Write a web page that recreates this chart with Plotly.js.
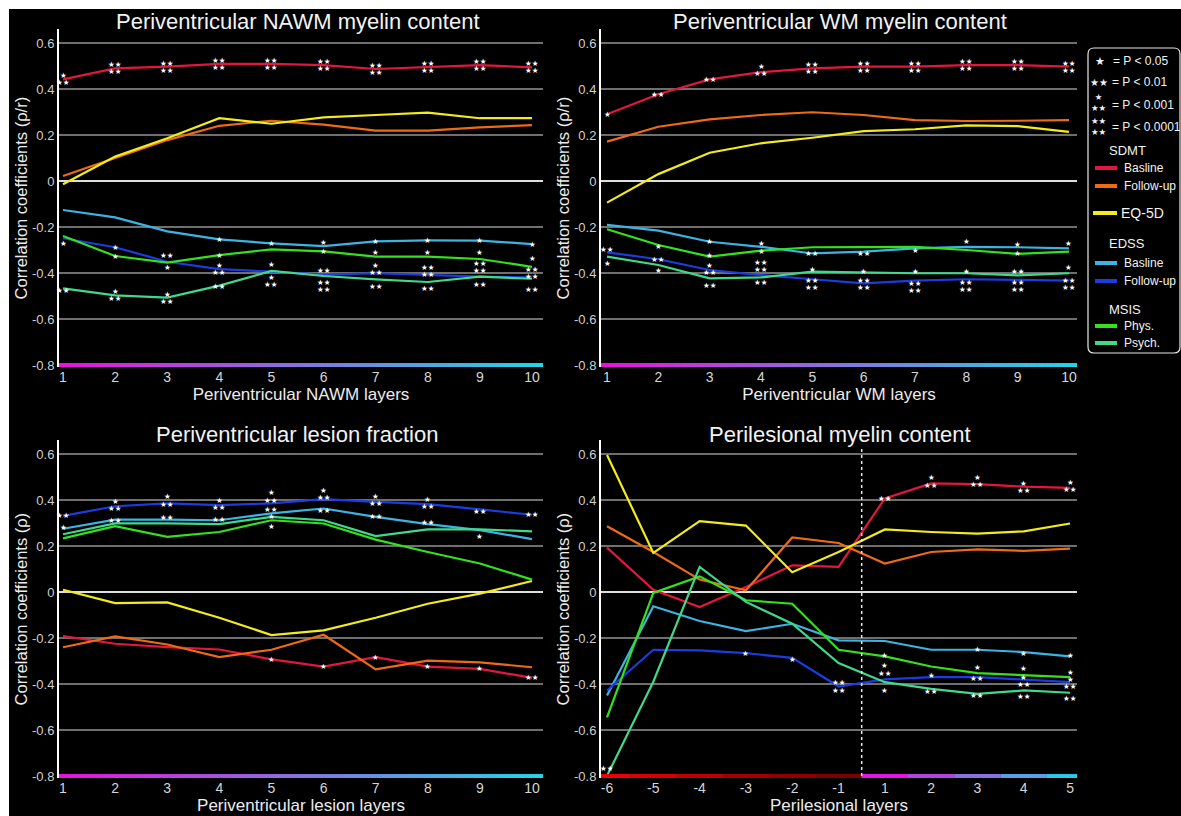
<!DOCTYPE html>
<html><head><meta charset="utf-8">
<script src="https://cdn.plot.ly/plotly-3.0.1.min.js"></script>
<style>
html,body{margin:0;padding:0;background:#ffffff;width:1181px;height:816px;overflow:hidden}
#plot{position:absolute;left:9px;top:9px;width:1172px;height:807px}
</style>
</head><body><div id="plot"></div>
<script>
// ================= DATA =================
const layers10 = [1,2,3,4,5,6,7,8,9,10];
const layerLabels10 = ['1','2','3','4','5','6','7','8','9','10'];
const perilesionalLayers = ['-6','-5','-4','-3','-2','-1','1','2','3','4','5'];
const yTickVals = [-0.8,-0.6,-0.4,-0.2,0,0.2,0.4,0.6];
const yTickText = ['-0.8','-0.6','-0.4','-0.2','0','0.2','0.4','0.6'];

// Panel 1: Periventricular NAWM myelin content
const nawmSdmtBase   = [0.442,0.490,0.497,0.509,0.509,0.504,0.487,0.494,0.504,0.494];
const nawmSdmtFollow = [0.022,0.099,0.178,0.240,0.262,0.245,0.219,0.219,0.233,0.243];
const nawmEq5d       = [-0.014,0.106,0.186,0.273,0.249,0.277,0.287,0.297,0.273,0.273];
const nawmEdssBase   = [-0.126,-0.158,-0.219,-0.254,-0.271,-0.283,-0.262,-0.258,-0.259,-0.274];
const nawmEdssFollow = [-0.249,-0.288,-0.351,-0.383,-0.394,-0.407,-0.401,-0.410,-0.416,-0.419];
const nawmMsisPhys   = [-0.239,-0.326,-0.355,-0.322,-0.297,-0.306,-0.329,-0.329,-0.339,-0.373];
const nawmMsisPsych  = [-0.467,-0.497,-0.507,-0.455,-0.391,-0.413,-0.428,-0.439,-0.416,-0.425];

// Panel 2: Periventricular WM myelin content
const wmSdmtBase   = [0.290,0.377,0.442,0.473,0.490,0.497,0.497,0.504,0.504,0.497];
const wmSdmtFollow = [0.171,0.236,0.268,0.287,0.299,0.287,0.265,0.261,0.262,0.265];
const wmEq5d       = [-0.094,0.030,0.123,0.164,0.188,0.217,0.225,0.242,0.239,0.214];
const wmEdssBase   = [-0.191,-0.216,-0.264,-0.286,-0.315,-0.307,-0.293,-0.286,-0.288,-0.293];
const wmEdssFollow = [-0.310,-0.340,-0.387,-0.409,-0.427,-0.445,-0.433,-0.427,-0.430,-0.433];
const wmMsisPhys   = [-0.210,-0.278,-0.329,-0.303,-0.288,-0.288,-0.286,-0.300,-0.317,-0.307];
const wmMsisPsych  = [-0.329,-0.365,-0.423,-0.419,-0.394,-0.399,-0.401,-0.401,-0.410,-0.401];

// Panel 3: Periventricular lesion fraction
const lesSdmtBase   = [-0.192,-0.225,-0.240,-0.250,-0.293,-0.324,-0.283,-0.324,-0.334,-0.373];
const lesSdmtFollow = [-0.240,-0.193,-0.228,-0.283,-0.251,-0.186,-0.336,-0.298,-0.306,-0.327];
const lesEq5d       = [0.010,-0.048,-0.045,-0.112,-0.187,-0.167,-0.112,-0.051,-0.007,0.048];
const lesEdssBase   = [0.275,0.315,0.315,0.312,0.342,0.363,0.327,0.295,0.269,0.230];
const lesEdssFollow = [0.331,0.373,0.385,0.378,0.385,0.404,0.392,0.382,0.359,0.336];
const lesMsisPhys   = [0.233,0.286,0.240,0.261,0.312,0.298,0.228,0.174,0.124,0.054];
const lesMsisPsych  = [0.251,0.298,0.298,0.295,0.327,0.312,0.243,0.272,0.272,0.264];

// Panel 4: Perilesional myelin content
const periSdmtBase   = [0.193,0.010,-0.065,0.022,0.116,0.109,0.407,0.472,0.469,0.458,0.453];
const periSdmtFollow = [0.286,0.174,0.054,0.007,0.237,0.213,0.124,0.174,0.185,0.179,0.189];
const periEq5d       = [0.596,0.170,0.308,0.289,0.086,0.174,0.272,0.261,0.254,0.264,0.298];
const periEdssBase   = [-0.450,-0.062,-0.126,-0.170,-0.138,-0.210,-0.213,-0.251,-0.251,-0.261,-0.280];
const periEdssFollow = [-0.428,-0.251,-0.254,-0.266,-0.286,-0.411,-0.380,-0.370,-0.370,-0.382,-0.392];
const periMsisPhys   = [-0.545,-0.004,0.068,-0.036,-0.051,-0.251,-0.280,-0.324,-0.353,-0.360,-0.370];
const periMsisPsych  = [-0.799,-0.390,0.109,-0.043,-0.138,-0.309,-0.392,-0.421,-0.443,-0.428,-0.438];

// Significance codes: 0 none, 1 P<0.05, 2 P<0.01, 3 P<0.001, 4 P<0.0001
const nawmSigSdmtBase   = [3,4,4,4,4,4,4,4,4,4];
const nawmSigEdssBase   = [0,0,0,1,1,1,1,1,1,1];
const nawmSigEdssFollow = [1,1,1,3,1,2,3,4,4,4];
const nawmSigMsisPhys   = [0,1,2,1,0,1,1,1,1,1];
const nawmSigMsisPsych  = [2,3,3,2,3,4,2,2,2,2];

const wmSigSdmtBase   = [1,2,2,3,4,4,4,4,4,4];
const wmSigEdssBase   = [0,0,1,1,2,2,1,1,1,1];
const wmSigEdssFollow = [2,2,3,4,4,4,4,4,4,4];
const wmSigMsisPhys   = [0,1,1,1,0,0,0,0,1,0];
const wmSigMsisPsych  = [1,1,2,2,1,1,1,1,2,1];

const lesSigSdmtBase   = [0,0,0,0,1,1,1,1,1,2];
const lesSigEdssBase   = [1,2,2,2,2,2,2,2,0,0];
const lesSigEdssFollow = [2,3,3,3,3,3,3,3,2,2];
const lesSigMsisPhys   = [0,0,0,0,1,0,0,0,0,0];
const lesSigMsisPsych  = [0,0,0,0,1,0,0,0,1,0];

const periSigSdmtBase   = [0,0,0,0,0,0,2,3,3,3,3];
const periSigEdssBase   = [0,0,0,0,0,0,0,0,1,1,1];
const periSigEdssFollow = [0,0,0,1,1,4,3,1,2,3,3];
const periSigMsisPhys   = [0,0,0,0,0,0,1,0,1,1,1];
const periSigMsisPsych  = [2,0,0,0,0,0,1,2,2,2,2];

// ================= STYLE =================
const COLORS = {
  sdmtBase:'#e3173e', sdmtFollow:'#ef6a14', eq5d:'#f2ec1c',
  edssBase:'#3bb4e4', edssFollow:'#1c3ce2', msisPhys:'#33e21c', msisPsych:'#40d98c'
};
const STAR_ROWS = [[], ['★'], ['★★'], ['★','★★'], ['★★','★★']];
// vertical pixel offset of each star label from its point (positive = up)
const starShift = {
  nawm: {edssBase:[0,0,0,0,0,4,0,0,0,0], edssFollow:[-5,0,-6,0,7,4,4,4,10,4],
         msisPhys:[0,0,7,0,0,0,4,4,6,8], msisPsych:[-2,0,0,-1,-10,-10,-7,-7,-8,-11]},
  wm:   {sdmtBase:[0,0,0,2,0,0,0,0,0,0], edssBase:[0,0,0,3,0,-2,-2,5,3,5],
         msisPhys:[0,-2,1,-1,0,0,0,0,0,0], edssFollow:[3,0,1,9,-5,-1,-6,-7,-6,-3],
         msisPsych:[-7,-6,-7,-5,2,1,2,2,4,6]},
  les:  {edssFollow:[0,1,3,1,7,5,2,1,-2,0], edssBase:[1,-1,2,1,4,-2,0,2,0,0],
         msisPsych:[0,0,0,0,0,0,0,0,-7,0], msisPhys:[0,0,0,0,-6,0,0,0,0,0]},
  peri: {sdmtBase:[0,0,0,0,0,0,0,2,3,0,2], msisPsych:[7,0,0,0,0,0,-8,-3,-2,-6,-6],
         edssFollow:[0,0,0,0,-2,0,10,2,-1,-1,-1], msisPhys:[0,0,0,0,0,0,1,0,6,6,5],
         edssBase:[0,0,0,0,0,0,0,0,0,-1,1]}
};
const FONT = 'Liberation Sans, Arial, sans-serif';
const STAR_FONT = 'DejaVu Sans, sans-serif';
const toPX = x => (x - 9) / 1172;
const toPY = y => 1 - (y - 9) / 807;

const panels = [
  {key:'nawm', xa:'x', ya:'y', x:layers10, series:[
    {y:nawmSdmtBase, c:'sdmtBase', sig:nawmSigSdmtBase},
    {y:nawmSdmtFollow, c:'sdmtFollow'},
    {y:nawmEq5d, c:'eq5d'},
    {y:nawmEdssBase, c:'edssBase', sig:nawmSigEdssBase},
    {y:nawmEdssFollow, c:'edssFollow', sig:nawmSigEdssFollow},
    {y:nawmMsisPhys, c:'msisPhys', sig:nawmSigMsisPhys},
    {y:nawmMsisPsych, c:'msisPsych', sig:nawmSigMsisPsych}
  ]},
  {key:'wm', xa:'x2', ya:'y2', x:layers10, series:[
    {y:wmSdmtBase, c:'sdmtBase', sig:wmSigSdmtBase},
    {y:wmSdmtFollow, c:'sdmtFollow'},
    {y:wmEq5d, c:'eq5d'},
    {y:wmEdssBase, c:'edssBase', sig:wmSigEdssBase},
    {y:wmEdssFollow, c:'edssFollow', sig:wmSigEdssFollow},
    {y:wmMsisPhys, c:'msisPhys', sig:wmSigMsisPhys},
    {y:wmMsisPsych, c:'msisPsych', sig:wmSigMsisPsych}
  ]},
  {key:'les', xa:'x3', ya:'y3', x:layers10, series:[
    {y:lesSdmtBase, c:'sdmtBase', sig:lesSigSdmtBase},
    {y:lesSdmtFollow, c:'sdmtFollow'},
    {y:lesEq5d, c:'eq5d'},
    {y:lesEdssBase, c:'edssBase', sig:lesSigEdssBase},
    {y:lesEdssFollow, c:'edssFollow', sig:lesSigEdssFollow},
    {y:lesMsisPhys, c:'msisPhys', sig:lesSigMsisPhys},
    {y:lesMsisPsych, c:'msisPsych', sig:lesSigMsisPsych}
  ]},
  {key:'peri', xa:'x4', ya:'y4', x:perilesionalLayers, categorical:true, series:[
    {y:periSdmtBase, c:'sdmtBase', sig:periSigSdmtBase},
    {y:periSdmtFollow, c:'sdmtFollow'},
    {y:periEq5d, c:'eq5d'},
    {y:periEdssBase, c:'edssBase', sig:periSigEdssBase},
    {y:periEdssFollow, c:'edssFollow', sig:periSigEdssFollow},
    {y:periMsisPhys, c:'msisPhys', sig:periSigMsisPhys},
    {y:periMsisPsych, c:'msisPsych', sig:periSigMsisPsych}
  ]}
];

const traces = [];
const annotations = [];
panels.forEach(p => {
  p.series.forEach(s => {
    traces.push({type:'scatter', mode:'lines', x:p.x, y:s.y, xaxis:p.xa, yaxis:p.ya,
      line:{color:COLORS[s.c], width:2.2}, hoverinfo:'skip', showlegend:false});
    if (!s.sig) return;
    const shifts = (starShift[p.key] || {})[s.c] || [];
    s.sig.forEach((code, i) => {
      const rows = STAR_ROWS[code];
      rows.forEach((row, r) => {
        const rowOff = rows.length === 2 ? (r === 0 ? 3.6 : -3.6) : 0;
        annotations.push({xref:p.xa, yref:p.ya,
          x:p.categorical ? i : p.x[i],   // category axes: use the category index
          y:s.y[i], text:row, showarrow:false,
          xanchor:'center', yanchor:'middle', yshift:(shifts[i] || 0) + rowOff,
          font:{family:STAR_FONT, size:7.5, color:'#ffffff'}});
      });
    });
  });
});

// ================= LAYOUT =================
const xDomL = [toPX(59), toPX(543)];
const xDomR = [toPX(601), toPX(1077)];
const yRange = [-0.809, 0.66];
const yDomT = [toPY(367.1), toPY(29.2)];
const yDomB = [toPY(778.1), toPY(440.2)];
const rangeL = [0.923, 10.211];
const rangeR = [0.883, 10.156];
const rangePeri = [-0.13, 10.15];

function yAxis(domain, anchor, title) {
  return {domain, anchor, range:yRange, tickmode:'array', tickvals:yTickVals, ticktext:yTickText,
    showgrid:true, gridcolor:'#6f6f6f', gridwidth:2,
    zeroline:true, zerolinecolor:'#dedede', zerolinewidth:2,
    showline:true, linecolor:'#ffffff', linewidth:2, ticks:'',
    tickfont:{family:FONT, size:13, color:'#cfcfcf'},
    title:{text:title, font:{family:FONT, size:16.5, color:'#ececec'}, standoff:0},
    fixedrange:true};
}
function xAxis(domain, anchor, range, title, extra) {
  return Object.assign({domain, anchor, range, showgrid:false, zeroline:false, showline:false, ticks:'',
    tickfont:{family:FONT, size:14, color:'#d6d6d6'},
    title:{text:title, font:{family:FONT, size:17, color:'#ececec'}, standoff:1},
    fixedrange:true}, extra);
}

const shapes = [];
function lerp(a,b,t){return Math.round(a+(b-a)*t);}
function gradBar(xref, yref, r) {
  const N = 60, c0 = [232,20,222], c1 = [36,212,232];
  for (let i = 0; i < N; i++) {
    const t = i/(N-1);
    shapes.push({type:'line', xref, yref, layer:'above',
      x0:r[0] + (r[1]-r[0])*i/N, x1:r[0] + (r[1]-r[0])*(i+1)/N + 0.01, y0:-0.8, y1:-0.8,
      line:{color:`rgb(${lerp(c0[0],c1[0],t)},${lerp(c0[1],c1[1],t)},${lerp(c0[2],c1[2],t)})`, width:4}});
  }
}
gradBar('x','y',rangeL);
gradBar('x2','y2',rangeR);
gradBar('x3','y3',rangeL);
const periBarColors = ['#f00000','#d80000','#bd0000','#a40000','#900000','#7c0000',
                       '#e414e4','#b044e2','#8870e2','#5a9ee8','#2ec8ec'];
periBarColors.forEach((col, i) => {
  const x0 = i === 0 ? rangePeri[0] : i - 0.5;
  const x1 = i === periBarColors.length - 1 ? rangePeri[1] : i + 0.5;
  shapes.push({type:'line', xref:'x4', yref:'y4', layer:'above', x0, x1, y0:-0.8, y1:-0.8,
    line:{color:col, width:4}});
});
shapes.push({type:'line', xref:'x4', yref:'y4', layer:'above', x0:5.5, x1:5.5, y0:-0.8, y1:0.635,
  line:{color:'#e6e6e6', width:1.5, dash:'dot'}});

(function(){
  const x0 = toPX(1088), x1 = toPX(1180), y0 = toPY(48), y1 = toPY(353);
  const rx = 6/1172, ry = 6/807;
  const path = `M ${x0+rx},${y0} L ${x1-rx},${y0} Q ${x1},${y0} ${x1},${y0-ry} L ${x1},${y1+ry} Q ${x1},${y1} ${x1-rx},${y1} L ${x0+rx},${y1} Q ${x0},${y1} ${x0},${y1+ry} L ${x0},${y0-ry} Q ${x0},${y0} ${x0+rx},${y0} Z`;
  shapes.push({type:'path', xref:'paper', yref:'paper', path, line:{color:'#e8e8e8', width:1.2}, fillcolor:'rgba(0,0,0,0)'});
})();
const legendLines = [
  ['sdmtBase',168],['sdmtFollow',186],['eq5d',213],['edssBase',263],['edssFollow',281],['msisPhys',326],['msisPsych',343]
];
legendLines.forEach(([c,y]) => {
  shapes.push({type:'line', xref:'paper', yref:'paper', x0:toPX(c==='eq5d'?1093:1095), x1:toPX(1117),
    y0:toPY(y), y1:toPY(y), line:{color:COLORS[c], width:4}});
});

function ann(x, y, text, size, xanchor, family) {
  annotations.push({xref:'paper', yref:'paper', x:toPX(x), y:toPY(y), text, showarrow:false,
    xanchor:xanchor || 'left', yanchor:'middle',
    font:{family:family || FONT, size:size, color:'#f2f2f2'}});
}
ann(298, 22, 'Periventricular NAWM myelin content', 22, 'center');
ann(840, 22, 'Periventricular WM myelin content', 22, 'center');
ann(297, 434, 'Periventricular lesion fraction', 22, 'center');
ann(840, 434, 'Perilesional myelin content', 22, 'center');
ann(1100, 61, '★', 11, 'center', STAR_FONT);
ann(1111, 61, '= P < 0.05', 12);
ann(1099, 82, '★★', 10, 'center', STAR_FONT);
ann(1110, 82, '= P < 0.01', 12);
ann(1099, 103, '★<br>★★', 8.5, 'center', STAR_FONT);
ann(1110, 105, '= P < 0.001', 12);
ann(1099, 126, '★★<br>★★', 8.5, 'center', STAR_FONT);
ann(1110, 127, '= P < 0.0001', 12);
ann(1107, 150, 'SDMT', 13);
ann(1122, 168, 'Basline', 12);
ann(1122, 186, 'Follow-up', 12);
ann(1119, 213, 'EQ-5D', 14);
ann(1107, 243, 'EDSS', 13);
ann(1122, 263, 'Basline', 12);
ann(1122, 281, 'Follow-up', 12);
ann(1107, 309, 'MSIS', 13);
ann(1122, 326, 'Phys.', 12);
ann(1122, 343, 'Psych.', 12);

const layout = {
  width:1172, height:807,
  margin:{l:0, r:0, t:0, b:0, pad:0},
  paper_bgcolor:'#000000', plot_bgcolor:'#000000',
  showlegend:false,
  xaxis:  xAxis(xDomL, 'y',  rangeL, 'Periventricular NAWM layers', {tickmode:'array', tickvals:layers10, ticktext:layerLabels10}),
  yaxis:  yAxis(yDomT, 'x',  'Correlation coefficients (ρ/r)'),
  xaxis2: xAxis(xDomR, 'y2', rangeR, 'Periventricular WM layers', {tickmode:'array', tickvals:layers10, ticktext:layerLabels10}),
  yaxis2: yAxis(yDomT, 'x2', 'Correlation coefficients (ρ/r)'),
  xaxis3: xAxis(xDomL, 'y3', rangeL, 'Periventricular lesion layers', {tickmode:'array', tickvals:layers10, ticktext:layerLabels10}),
  yaxis3: yAxis(yDomB, 'x3', 'Correlation coefficients (ρ)'),
  xaxis4: xAxis(xDomR, 'y4', rangePeri, 'Perilesional layers', {type:'category', categoryorder:'array', categoryarray:perilesionalLayers}),
  yaxis4: yAxis(yDomB, 'x4', 'Correlation coefficients (ρ)'),
  shapes, annotations
};

Plotly.newPlot('plot', traces, layout, {displayModeBar:false, staticPlot:true});
</script>
</body></html>
